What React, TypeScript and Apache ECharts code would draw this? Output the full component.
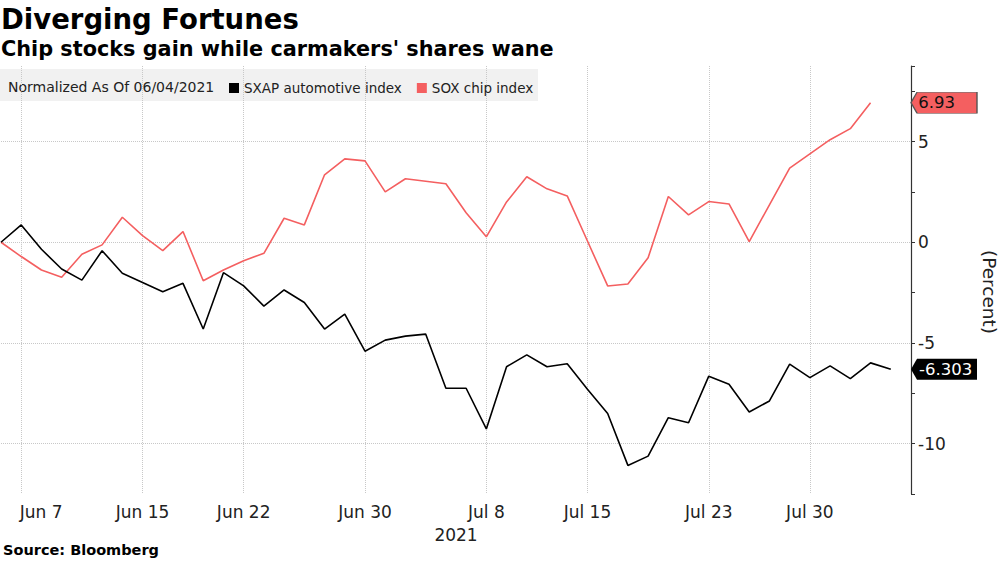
import React, { useEffect, useRef } from 'react';
import * as echarts from 'echarts';

const dates = [
  'Jun 4', 'Jun 7', 'Jun 8', 'Jun 9', 'Jun 10', 'Jun 11', 'Jun 14', 'Jun 15', 'Jun 16', 'Jun 17',
  'Jun 18', 'Jun 21', 'Jun 22', 'Jun 23', 'Jun 24', 'Jun 25', 'Jun 28', 'Jun 29', 'Jun 30', 'Jul 1',
  'Jul 2', 'Jul 5', 'Jul 6', 'Jul 7', 'Jul 8', 'Jul 9', 'Jul 12', 'Jul 13', 'Jul 14', 'Jul 15',
  'Jul 16', 'Jul 19', 'Jul 20', 'Jul 21', 'Jul 22', 'Jul 23', 'Jul 26', 'Jul 27', 'Jul 28', 'Jul 29',
  'Jul 30', 'Aug 2', 'Aug 3', 'Aug 4', 'Aug 5', 'Aug 6',
];

const xTickLabels = ['Jun 7', 'Jun 15', 'Jun 22', 'Jun 30', 'Jul 8', 'Jul 15', 'Jul 23', 'Jul 30'];
const yTickLabels = [5, 0, -5, -10];
const seriesNames = ['SXAP automotive index', 'SOX chip index'];

const sxapValues = [
  0, 0.86, -0.35, -1.33, -1.88, -0.42, -1.54, -2.0, -2.46, -2.04,
  -4.31, -1.51, -2.17, -3.17, -2.37, -2.99, -4.31, -3.57, -5.41, -4.86,
  -4.66, -4.56, -7.25, -7.25, -9.27, -6.18, -5.59, -6.18, -6.03, -7.3,
  -8.5, -11.08, -10.62, -8.71, -8.96, -6.65, -7.05, -8.43, -7.88, -6.05,
  -6.72, -6.14, -6.77, -5.99, -6.303, null,
];

const soxValues = [
  0, -0.71, -1.38, -1.74, -0.6, -0.13, 1.24, 0.33, -0.42, 0.53,
  -1.91, -1.38, -0.92, -0.55, 1.19, 0.86, 3.35, 4.14, 4.04, 2.5,
  3.15, null, 2.9, 1.46, 0.27, 2.0, 3.25, 2.65, 2.3, 0.06,
  -2.17, -2.07, -0.77, 2.27, 1.36, 2.02, 1.9, 0.03, 1.86, 3.68,
  4.39, 5.09, 5.64, 6.93, null, null,
];

const FONT = '"DejaVu Sans", Verdana, sans-serif';
const RED = '#f45f60';
const TEXT = '#222';

function lastValue(arr: (number | null)[]): number {
  for (let i = arr.length - 1; i >= 0; i--) {
    if (arr[i] !== null && arr[i] !== undefined) return arr[i] as number;
  }
  return 0;
}

const tagPath = 'path://M0,10.5L6,0L66,0L66,21L6,21Z';

export default function App() {
  const ref = useRef<HTMLDivElement>(null);

  useEffect(() => {
    if (!ref.current) return;
    const chart = echarts.init(ref.current, undefined, { renderer: 'svg' });
    const tickSet = new Set(xTickLabels);
    const showTick = (_i: number, v: string) => tickSet.has(v);
    const edgeIndex = dates.length - 1;
    const sxapLast = lastValue(sxapValues);
    const soxLast = lastValue(soxValues);

    const option: any = {
      animation: false,
      backgroundColor: '#fff',
      title: [
        {
          text: 'Diverging Fortunes',
          left: 1,
          top: 5,
          padding: 0,
          textStyle: { fontFamily: FONT, fontSize: 27.5, fontWeight: 'bold', color: '#000' },
        },
        {
          text: "Chip stocks gain while carmakers' shares wane",
          left: 1,
          top: 38,
          padding: 0,
          textStyle: { fontFamily: FONT, fontSize: 20.8, fontWeight: 'bold', color: '#000' },
        },
        {
          text: 'Source: Bloomberg',
          left: 3,
          top: 542,
          padding: 0,
          textStyle: { fontFamily: FONT, fontSize: 14.5, fontWeight: 'bold', color: '#000' },
        },
      ],
      legend: {
        data: seriesNames,
        left: 229,
        top: 81,
        padding: 0,
        icon: 'rect',
        itemWidth: 10,
        itemHeight: 10,
        itemGap: 15,
        selectedMode: false,
        textStyle: { fontFamily: FONT, fontSize: 13.5, color: TEXT },
      },
      graphic: [
        {
          type: 'rect',
          z: -10,
          silent: true,
          shape: { x: 0, y: 69, width: 538, height: 32 },
          style: { fill: '#f1f1f1' },
        },
        {
          type: 'text',
          x: 8,
          y: 87,
          silent: true,
          style: {
            text: 'Normalized As Of 06/04/2021',
            fontFamily: FONT,
            fontSize: 14,
            fill: TEXT,
            verticalAlign: 'middle',
          },
        },
        {
          type: 'text',
          x: 989,
          y: 292,
          rotation: -Math.PI / 2,
          silent: true,
          style: {
            text: '(Percent)',
            fontFamily: FONT,
            fontSize: 18.5,
            fill: TEXT,
            align: 'center',
            verticalAlign: 'middle',
          },
        },
      ],
      grid: { left: 1, right: 92, top: 66, bottom: 70, containLabel: false },
      xAxis: {
        type: 'category',
        data: dates,
        boundaryGap: false,
        axisLine: { show: false },
        axisTick: {
          show: true,
          length: 6,
          interval: showTick,
          lineStyle: { color: '#ccc', type: 'dotted' },
        },
        axisLabel: {
          interval: showTick,
          fontFamily: FONT,
          fontSize: 17,
          color: TEXT,
          margin: 9,
          formatter: (v: string) => (v === xTickLabels[0] ? `{first|${v}}` : v),
          rich: {
            first: { fontFamily: FONT, fontSize: 17, color: TEXT, padding: [0, 0, 0, 40] },
          },
        },
        splitLine: {
          show: true,
          interval: showTick,
          lineStyle: { color: '#c8c8c8', type: 'dotted', width: 1 },
        },
        name: '2021',
        nameLocation: 'middle',
        nameGap: 32,
        nameTextStyle: { fontFamily: FONT, fontSize: 17, color: TEXT },
      },
      yAxis: {
        type: 'value',
        position: 'right',
        min: -12.5,
        max: 8.75,
        interval: 2.5,
        axisLine: { show: true, lineStyle: { color: '#333', width: 1.2 } },
        axisTick: { show: true, length: 4, lineStyle: { color: '#333' } },
        axisLabel: {
          formatter: (v: number) => (yTickLabels.includes(v) ? String(v) : ''),
          fontFamily: FONT,
          fontSize: 17,
          color: TEXT,
          margin: 7,
        },
        splitLine: { show: false },
      },
      series: [
        {
          name: seriesNames[0],
          type: 'line',
          data: sxapValues,
          symbol: 'none',
          lineStyle: { color: '#000', width: 1.6 },
          itemStyle: { color: '#000' },
          z: 3,
          markLine: {
            silent: true,
            z: 1,
            symbol: 'none',
            label: { show: false },
            lineStyle: { color: '#c8c8c8', type: 'dotted', width: 1 },
            data: yTickLabels.map((v) => ({ yAxis: v })),
          },
          markPoint: {
            silent: true,
            data: [{ coord: [edgeIndex, sxapLast], value: sxapLast }],
            symbol: tagPath,
            symbolSize: [66, 21],
            symbolOffset: [33, 0],
            symbolKeepAspect: false,
            itemStyle: { color: '#000' },
            label: {
              show: true,
              position: 'insideLeft',
              distance: 8,
              formatter: String(sxapLast),
              fontFamily: FONT,
              fontSize: 16.5,
              color: '#fff',
            },
          },
        },
        {
          name: seriesNames[1],
          type: 'line',
          data: soxValues,
          connectNulls: true,
          symbol: 'none',
          lineStyle: { color: RED, width: 1.6 },
          itemStyle: { color: RED },
          z: 2,
          markPoint: {
            silent: true,
            data: [{ coord: [edgeIndex, soxLast], value: soxLast }],
            symbol: tagPath,
            symbolSize: [66, 21],
            symbolOffset: [33, 0],
            symbolKeepAspect: false,
            itemStyle: { color: RED, borderColor: '#555', borderWidth: 0.8 },
            label: {
              show: true,
              position: 'insideLeft',
              distance: 8,
              formatter: String(soxLast),
              fontFamily: FONT,
              fontSize: 16.5,
              color: '#111',
            },
          },
        },
      ],
    };

    chart.setOption(option);
    return () => {
      chart.dispose();
    };
  }, []);

  return (
    <div
      ref={ref}
      style={{ position: 'fixed', left: 0, top: 0, width: 1003, height: 564, background: '#fff' }}
    />
  );
}
